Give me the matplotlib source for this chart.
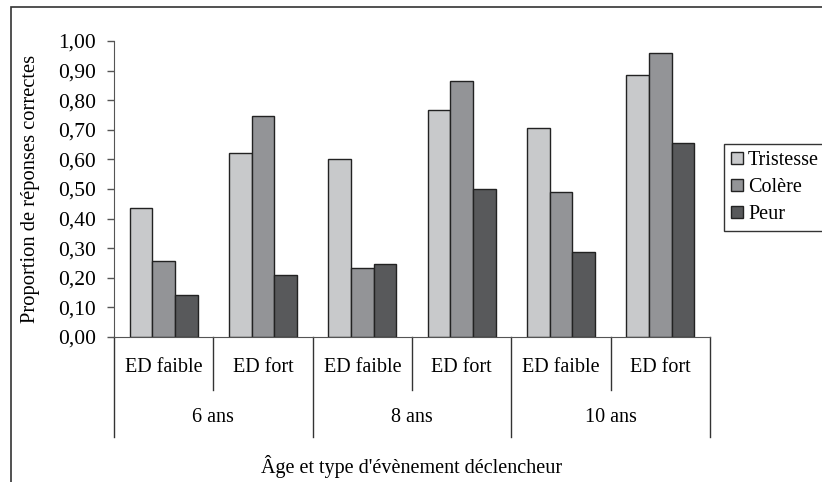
import matplotlib
matplotlib.use("Agg")
import matplotlib.pyplot as plt
from matplotlib.patches import Patch, Rectangle
import numpy as np

# data
ages = ["6 ans", "8 ans", "10 ans"]
types = ["ED faible", "ED fort"]
series = ["Tristesse", "Colère", "Peur"]
tristesse = [0.435, 0.623, 0.600, 0.767, 0.707, 0.884]
colere = [0.257, 0.748, 0.233, 0.866, 0.491, 0.958]
peur = [0.142, 0.208, 0.248, 0.501, 0.287, 0.654]
colors = ["#c8c9cb", "#939497", "#58595b"]

plt.rcParams["font.family"] = ["Liberation Serif", "DejaVu Serif"]

W, H = 822, 482
fig = plt.figure(figsize=(W / 100, H / 100), dpi=100)
ax = fig.add_axes([114 / W, 1 - 337 / H, (710 - 114) / W, (337 - 41) / H])

n = len(tristesse)
x = np.arange(n)
bw = 0.228
for k, vals in enumerate([tristesse, colere, peur]):
    ax.bar(x + (k - 1) * bw, vals, bw, color=colors[k], edgecolor="#222222",
           linewidth=1.0, label=series[k])

ax.set_xlim(-0.5, n - 0.5)
ax.set_ylim(0, 1.0)
ax.set_yticks(np.arange(0, 1.01, 0.1))
ax.set_yticklabels([("%.2f" % v).replace(".", ",") for v in np.arange(0, 1.01, 0.1)])
ax.tick_params(axis="y", direction="out", length=5, width=1, color="#555555",
               labelsize=15.5, pad=8)
ax.set_xticks([])
for s in ["top", "right"]:
    ax.spines[s].set_visible(False)
ax.spines["left"].set_color("#555555")
ax.spines["bottom"].set_color("#555555")
ax.text(-84 / 596, 0.5, "Proportion de réponses correctes", rotation=90,
        ha="center", va="center", fontsize=14.8, transform=ax.transAxes)

# hierarchical x labels
trans = ax.get_xaxis_transform()
px = 1 / (337 - 41)  # one pixel in axes units
for i in range(n):
    ax.text(i, -31 * px, types[i % 2], ha="center", va="center",
            fontsize=14.5, transform=trans)
for b in range(n + 1):
    depth = 100 if b % 2 == 0 else 53
    ax.plot([b - 0.5, b - 0.5], [0, -depth * px], color="#333333", lw=1,
            transform=trans, clip_on=False)
for g, age in enumerate(ages):
    ax.text(2 * g + 0.5, -81 * px, age, ha="center", va="center",
            fontsize=14.5, transform=trans)
ax.text(0.5, -129 * px, "Âge et type d'évènement déclencheur", ha="center",
        va="center", fontsize=14.5, transform=ax.transAxes)

# outer chart border (cut by the image edges)
fig.patches.append(Rectangle((11 / W, -0.1), 1.2, 1.1 - 7 / H, fill=False,
                             edgecolor="#333333", lw=1.2,
                             transform=fig.transFigure))

handles = [Patch(facecolor=colors[k], edgecolor="#222222", lw=1) for k in range(3)]
fig.legend(handles, series, loc="upper left", bbox_to_anchor=(724 / W, 1 - 144 / H),
           bbox_transform=fig.transFigure, borderaxespad=0, fancybox=False,
           edgecolor="#333333", framealpha=1, fontsize=14.5, handlelength=0.6,
           handleheight=0.6, handletextpad=0.25, labelspacing=0.4,
           borderpad=0.35)

fig.savefig("out.png", dpi=100)
